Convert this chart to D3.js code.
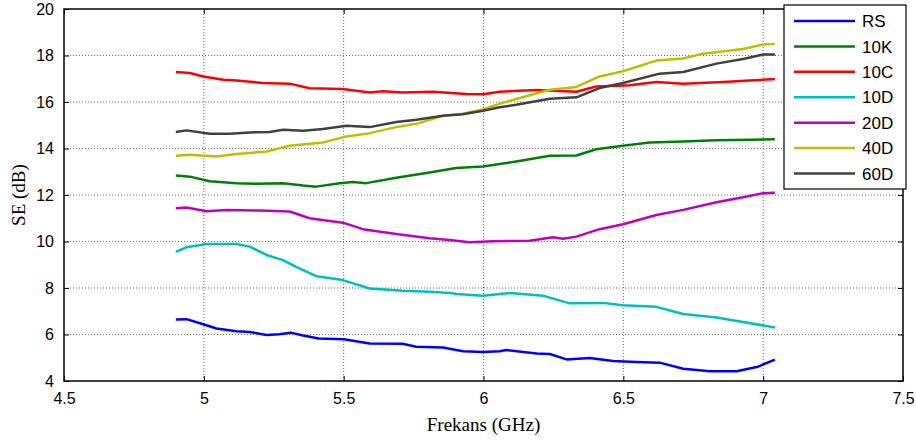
<!DOCTYPE html>
<html>
<head>
<meta charset="utf-8">
<script src="https://cdn.jsdelivr.net/npm/d3@7"></script>
<style>
  html, body { margin: 0; padding: 0; background: #fff; }
  svg { display: block; }
</style>
</head>
<body>
<svg id="chart" width="916" height="441"></svg>
<script>
// ---- Data (frequency in GHz, SE in dB) ----
const seriesNames = ["RS", "10K", "10C", "10D", "20D", "40D", "60D"];
const seriesColors = ["#0000ff", "#008000", "#ff0000", "#00bfbf", "#bf00bf", "#bfbf00", "#404040"];

const xTicks = [4.5, 5, 5.5, 6, 6.5, 7, 7.5];
const yTicks = [4, 6, 8, 10, 12, 14, 16, 18, 20];

const RS = [[4.90,6.65],[4.938,6.66],[4.998,6.44],[5.045,6.26],[5.117,6.14],[5.164,6.11],[5.224,5.98],[5.27,6.01],[5.31,6.08],[5.355,5.96],[5.41,5.83],[5.50,5.80],[5.593,5.61],[5.71,5.60],[5.76,5.47],[5.855,5.44],[5.927,5.28],[5.998,5.25],[6.058,5.28],[6.082,5.33],[6.19,5.18],[6.237,5.16],[6.297,4.93],[6.38,4.99],[6.463,4.86],[6.547,4.82],[6.63,4.79],[6.714,4.53],[6.81,4.42],[6.905,4.42],[6.977,4.60],[7.042,4.92]];
const K10 = [[4.90,12.84],[4.95,12.79],[5.021,12.59],[5.117,12.51],[5.188,12.48],[5.283,12.51],[5.355,12.41],[5.402,12.36],[5.486,12.51],[5.533,12.56],[5.581,12.51],[5.688,12.74],[5.807,12.97],[5.902,13.16],[5.998,13.23],[6.058,13.33],[6.117,13.44],[6.237,13.69],[6.332,13.70],[6.403,13.97],[6.499,14.12],[6.594,14.26],[6.714,14.30],[6.833,14.35],[6.952,14.38],[7.042,14.40]];
const C10 = [[4.90,17.29],[4.95,17.25],[4.998,17.10],[5.07,16.96],[5.117,16.92],[5.212,16.82],[5.307,16.79],[5.378,16.59],[5.497,16.56],[5.593,16.41],[5.64,16.46],[5.712,16.41],[5.819,16.44],[5.938,16.34],[5.998,16.33],[6.058,16.44],[6.19,16.52],[6.332,16.44],[6.403,16.67],[6.522,16.72],[6.618,16.86],[6.714,16.79],[6.857,16.86],[6.952,16.92],[7.042,16.99]];
const D10 = [[4.90,9.56],[4.938,9.75],[5.01,9.89],[5.117,9.89],[5.164,9.78],[5.224,9.42],[5.283,9.20],[5.33,8.91],[5.402,8.51],[5.497,8.34],[5.593,7.98],[5.712,7.88],[5.807,7.84],[5.879,7.79],[5.902,7.74],[5.998,7.67],[6.094,7.79],[6.213,7.67],[6.308,7.34],[6.427,7.36],[6.499,7.26],[6.618,7.19],[6.714,6.88],[6.833,6.73],[6.928,6.54],[7.042,6.30]];
const D20 = [[4.90,11.43],[4.938,11.46],[5.01,11.30],[5.081,11.36],[5.20,11.33],[5.307,11.29],[5.378,11.00],[5.497,10.81],[5.569,10.53],[5.688,10.32],[5.807,10.14],[5.879,10.06],[5.95,9.97],[6.034,10.01],[6.165,10.03],[6.248,10.18],[6.284,10.12],[6.332,10.21],[6.415,10.53],[6.499,10.74],[6.618,11.14],[6.714,11.36],[6.833,11.69],[6.928,11.90],[7.00,12.08],[7.042,12.10]];
const D40 = [[4.90,13.69],[4.95,13.73],[5.045,13.66],[5.117,13.76],[5.224,13.87],[5.307,14.12],[5.426,14.26],[5.51,14.52],[5.593,14.66],[5.688,14.92],[5.76,15.06],[5.855,15.41],[5.926,15.50],[5.998,15.68],[6.058,15.93],[6.117,16.13],[6.237,16.53],[6.332,16.65],[6.415,17.10],[6.499,17.32],[6.618,17.78],[6.714,17.87],[6.785,18.08],[6.928,18.28],[7.00,18.47],[7.042,18.50]];
const D60 = [[4.90,14.71],[4.938,14.78],[5.021,14.63],[5.093,14.63],[5.164,14.69],[5.236,14.71],[5.283,14.81],[5.355,14.76],[5.426,14.84],[5.51,14.98],[5.593,14.92],[5.688,15.14],[5.76,15.24],[5.855,15.41],[5.926,15.47],[5.998,15.62],[6.058,15.77],[6.117,15.88],[6.237,16.14],[6.332,16.20],[6.415,16.60],[6.499,16.82],[6.63,17.22],[6.714,17.29],[6.833,17.65],[6.928,17.85],[7.00,18.04],[7.042,18.04]];

const seriesValues = [RS, K10, C10, D10, D20, D40, D60];

// ---- Layout ----
const svg = d3.select("#chart");
const margin = { left: 64, top: 9, right: 13, bottom: 60 };
const W = 916, H = 441;
const x0 = margin.left, x1 = W - margin.right;
const y0 = H - margin.bottom, y1 = margin.top;

const x = d3.scaleLinear().domain([4.5, 7.5]).range([x0, x1]);
const y = d3.scaleLinear().domain([4, 20]).range([y0, y1]);

// grid
const grid = svg.append("g");
grid.selectAll("line.vg").data(xTicks.slice(1, -1)).join("line")
  .attr("x1", d => x(d)).attr("x2", d => x(d))
  .attr("y1", y0).attr("y2", y1)
  .attr("stroke", "#444").attr("stroke-width", 0.8).attr("stroke-dasharray", "1,2");
grid.selectAll("line.hg").data(yTicks.slice(1, -1)).join("line")
  .attr("y1", d => y(d)).attr("y2", d => y(d))
  .attr("x1", x0).attr("x2", x1)
  .attr("stroke", "#444").attr("stroke-width", 0.8).attr("stroke-dasharray", "1,2");

// axes (ticks inward)
const tickLen = 5;
const fontTick = "'Liberation Sans', Arial, sans-serif";
const xAxisB = d3.axisBottom(x).tickValues(xTicks).tickSizeInner(-tickLen).tickSizeOuter(0).tickPadding(12).tickFormat(d3.format("~g"));
const xAxisT = d3.axisTop(x).tickValues(xTicks).tickSizeInner(-tickLen).tickSizeOuter(0).tickFormat("");
const yAxisL = d3.axisLeft(y).tickValues(yTicks).tickSizeInner(-tickLen).tickSizeOuter(0).tickPadding(10).tickFormat(d3.format("~g"));
const yAxisR = d3.axisRight(y).tickValues(yTicks).tickSizeInner(-tickLen).tickSizeOuter(0).tickFormat("");

function styleAxis(g) {
  g.select(".domain").remove();
  g.selectAll(".tick line").attr("stroke", "#000").attr("stroke-width", 1);
  g.selectAll(".tick text").attr("fill", "#000").style("font-family", fontTick).style("font-size", "16px");
}
svg.append("g").attr("transform", `translate(0,${y0})`).call(xAxisB).call(styleAxis);
svg.append("g").attr("transform", `translate(0,${y1})`).call(xAxisT).call(styleAxis);
svg.append("g").attr("transform", `translate(${x0},0)`).call(yAxisL).call(styleAxis);
svg.append("g").attr("transform", `translate(${x1},0)`).call(yAxisR).call(styleAxis);

// lines
const line = d3.line().x(d => x(d[0])).y(d => y(d[1]));
svg.append("g").selectAll("path").data(seriesValues).join("path")
  .attr("d", line)
  .attr("fill", "none")
  .attr("stroke", (d, i) => seriesColors[i])
  .attr("stroke-width", 2.5)
  .attr("stroke-linejoin", "round");

// frame
svg.append("rect").attr("x", x0).attr("y", y1).attr("width", x1 - x0).attr("height", y0 - y1)
  .attr("fill", "none").attr("stroke", "#000").attr("stroke-width", 1.5);

// axis labels
svg.append("text").attr("x", (x0 + x1) / 2).attr("y", 431)
  .attr("text-anchor", "middle")
  .style("font-family", "'Liberation Serif', 'Times New Roman', serif").style("font-size", "19px")
  .text("Frekans (GHz)");
svg.append("text").attr("transform", `translate(25,${(y0 + y1) / 2}) rotate(-90)`)
  .attr("text-anchor", "middle")
  .style("font-family", "'Liberation Serif', 'Times New Roman', serif").style("font-size", "19px")
  .text("SE (dB)");

// legend
const lg = svg.append("g");
const lgX = 784, lgY = 5, lgW = 122, lgH = 184;
lg.append("rect").attr("x", lgX).attr("y", lgY).attr("width", lgW).attr("height", lgH)
  .attr("fill", "#fff").attr("stroke", "#000").attr("stroke-width", 1.2);
const rowY = d3.scaleLinear().domain([0, seriesNames.length - 1]).range([21, 173.5]);
const items = lg.selectAll("g.item").data(seriesNames).join("g").attr("class", "item");
items.append("line")
  .attr("x1", 794).attr("x2", 855)
  .attr("y1", (d, i) => rowY(i)).attr("y2", (d, i) => rowY(i))
  .attr("stroke", (d, i) => seriesColors[i]).attr("stroke-width", 2.5);
items.append("text")
  .attr("x", 862).attr("y", (d, i) => rowY(i)).attr("dy", "0.36em")
  .style("font-family", fontTick).style("font-size", "17px")
  .text(d => d);
</script>
</body>
</html>
